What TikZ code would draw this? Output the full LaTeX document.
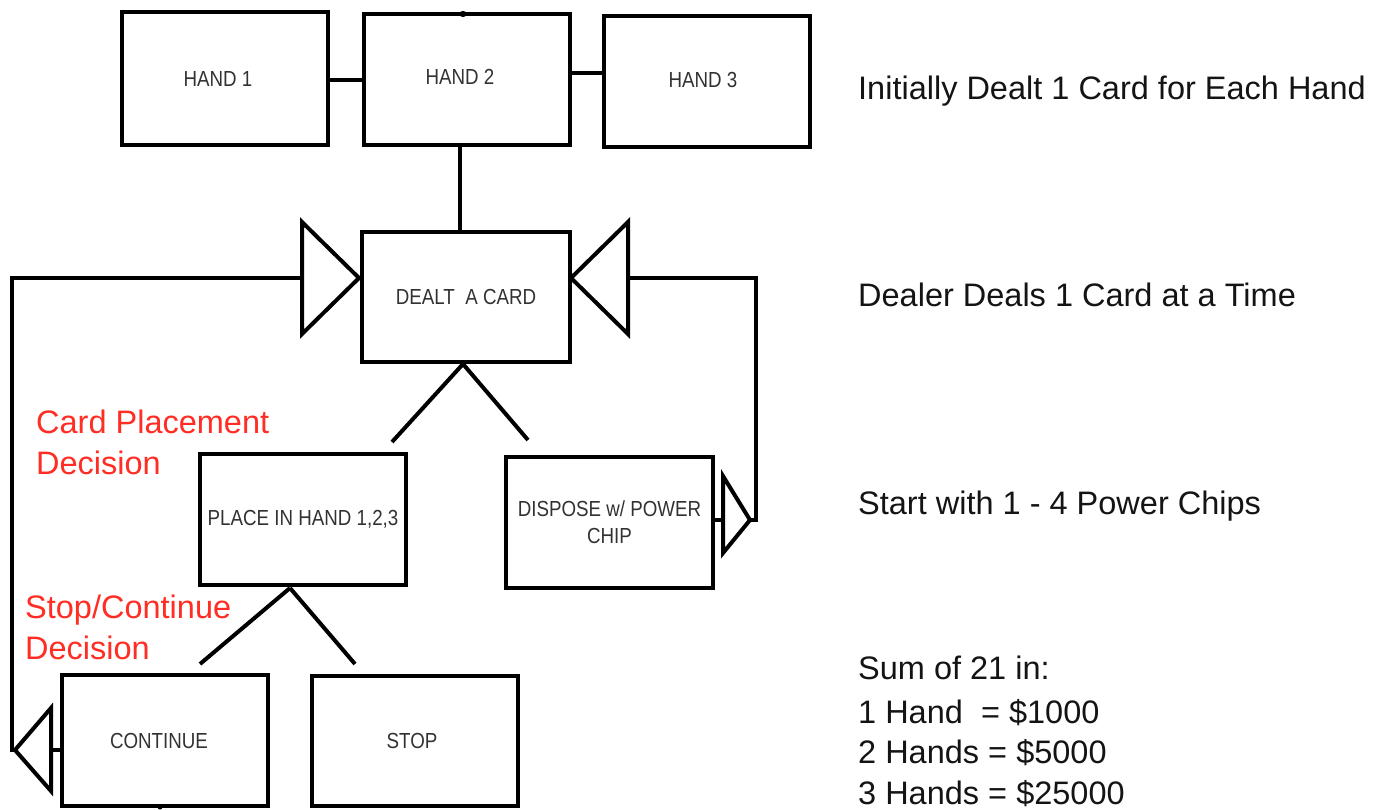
\documentclass[tikz,border=0pt]{standalone}
\usepackage{fontspec}
\setmainfont{Liberation Sans}
\newfontfamily\boxfont[FakeStretch=0.86]{Liberation Sans}
\definecolor{boxtext}{RGB}{50,50,50}
\definecolor{redtext}{RGB}{255,45,35}
\definecolor{maintext}{RGB}{20,20,20}
\begin{document}
\begin{tikzpicture}[x=1pt,y=-1pt,
  card/.style={draw, line width=4pt, inner sep=0pt, minimum width=206pt, minimum height=131pt,
    font=\boxfont\fontsize{21.8}{27}\selectfont, text=boxtext, align=center},
  wire/.style={line width=4pt},
  tri/.style={line width=4pt, line join=miter},
  note/.style={anchor=base west, inner sep=0pt, font=\fontsize{32.5}{36}\selectfont, text=maintext},
  rednote/.style={anchor=base west, inner sep=0pt, font=\fontsize{32.5}{36}\selectfont, text=redtext}]
\useasboundingbox (0,0) rectangle (1389,809);
% boxes
\node[card, minimum height=133pt] (h1) at (225,78.5) {HAND 1\hspace{14pt}};
\node[card] (h2) at (467,79.5) {\raisebox{5.5pt}{HAND 2}\hspace{14pt}};
\node[card] (h3) at (707,81) {\raisebox{3pt}{HAND 3}\hspace{8pt}};
\node[card, minimum width=208pt, minimum height=130pt] (dealt) at (466,297) {DEALT\ \ A CARD};
\node[card] (place) at (303,519.5) {PLACE IN HAND 1,2,3};
\node[card, minimum width=207pt] (disp) at (609.5,522) {DISPOSE w/ POWER\\CHIP};
\node[card] (cont) at (165,740.5) {CONTINUE\hspace{12pt}};
\node[card, minimum height=130pt] (stop) at (415,741) {STOP\hspace{6pt}};
% top connectors
\draw[wire] (h1.east |- 0,80) -- (h2.west |- 0,80);
\draw[wire] (h2.east |- 0,73) -- (h3.west |- 0,73);
\fill (463,14) circle (3.2pt);
\draw[wire] (h2.south -| 460,0) -- (dealt.north -| 460,0);
% left loop
\coordinate (lt) at (302,278);
\coordinate (lb) at (51,750);
\draw[tri] (302,222) -- (302,334) -- (359,278) -- cycle;
\draw[tri] (lb |- 0,708) -- (lb |- 0,791) -- (15,750) -- cycle;
\draw[wire] (cont.west |- lb) -- (lb);
\draw[wire] (12,752) -- (12,278) -- (lt);
% right loop
\coordinate (rt) at (628,278);
\coordinate (rb) at (723,520);
\draw[tri] (628,222) -- (628,334) -- (571,278) -- cycle;
\draw[tri] (723,476) -- (723,553) -- (750,520) -- cycle;
\draw[wire] (disp.east |- rb) -- (rb);
\draw[wire] (748,520) -- (756,520) -- (756,278) -- (rt);
% branches
\coordinate (da) at (463,364);
\draw[wire] (da) -- (392,442);
\draw[wire] (da) -- (528,440);
\coordinate (pa) at (290,588);
\draw[wire] (pa) -- (200,664);
\draw[wire] (pa) -- (355,664);
\fill (160,807) circle (2.5pt);
% red labels
\node[rednote] (cp1) at (36,433.5) {Card Placement};
\node[rednote] (cp2) at (36,474.5) {Decision};
\node[rednote] (sc1) at (25,618.5) {Stop/Continue};
\node[rednote] (sc2) at (25,659.5) {Decision};
% right notes
\node[note] (n1) at (858,99.5) {Initially Dealt 1 Card for Each Hand};
\node[note] (n2) at (858,306.5) {Dealer Deals 1 Card at a Time};
\node[note] (n3) at (858,514.5) {Start with 1 - 4 Power Chips};
\node[note] (n4) at (858,679.5) {Sum of 21 in:};
\node[note] (n5) at (858,723.5) {1 Hand\ \ = \$1000};
\node[note] (n6) at (858,763.5) {2 Hands = \$5000};
\node[note] (n7) at (858,804) {3 Hands = \$25000};
\end{tikzpicture}
\end{document}
